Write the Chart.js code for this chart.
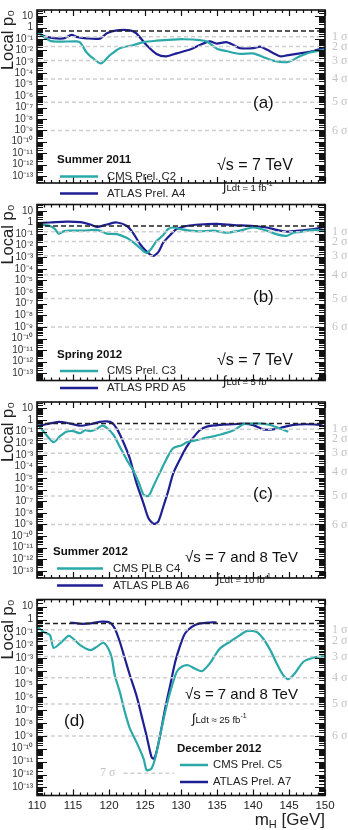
<!DOCTYPE html>
<html>
<head>
<meta charset="utf-8">
<script src="https://cdn.jsdelivr.net/npm/chart.js@4.4.1/dist/chart.umd.min.js"></script>
<style>
  body { margin: 0; background: #fff; width: 348px; height: 830px; overflow: hidden; }
  canvas { position: absolute; left: 0; top: 0; }
</style>
</head>
<body>
<canvas id="pa" width="348" height="830"></canvas>
<canvas id="pb" width="348" height="830"></canvas>
<canvas id="pc" width="348" height="830"></canvas>
<canvas id="pd" width="348" height="830"></canvas>
<script>
// ---- values (mass in GeV, local p0) ----
const massCmsA  = [110.1, 111.8, 113.2, 115.5, 116.0, 116.9, 117.8, 118.9, 120.1, 121.5, 123.4, 124.8, 126.6, 128.9, 130.3, 132.6, 133.6, 135.0, 136.3, 138.2, 140.0, 141.4, 142.8, 144.9, 146.5, 147.9, 150.0];
const pCmsA     = [0.38, 0.071, 0.060, 0.063, 0.05, 0.0067, 0.002, 7.3e-4, 0.0037, 0.016, 0.030, 0.054, 0.072, 0.091, 0.097, 0.081, 0.060, 0.0145, 0.0090, 0.0050, 0.0056, 0.0027, 0.0013, 0.0010, 0.0031, 0.0067, 0.012];
const massAtlasA = [110.1, 111.3, 113.7, 114.8, 115.5, 116.9, 118.75, 119.7, 121.1, 122.9, 123.8, 125.2, 126.6, 128.0, 129.4, 131.25, 132.6, 134.0, 134.95, 136.3, 137.3, 138.2, 140.05, 141.0, 141.9, 143.75, 144.7, 146.5, 148.4, 150.0];
const pAtlasA    = [0.38, 0.155, 0.115, 0.235, 0.155, 0.115, 0.11, 0.32, 0.58, 0.58, 0.32, 0.030, 0.0050, 0.0031, 0.0056, 0.012, 0.030, 0.063, 0.04, 0.054, 0.030, 0.016, 0.016, 0.022, 0.012, 0.0031, 0.0037, 0.0056, 0.0090, 0.019];

const massCmsB  = [110.1, 111.8, 112.5, 113.0, 113.7, 114.6, 116.4, 118.3, 119.7, 121.1, 122.5, 123.4, 124.3, 125.2, 125.9, 126.6, 127.55, 128.2, 128.9, 129.9, 131.25, 132.6, 134.5, 136.3, 138.2, 140.05, 141.9, 143.3, 144.7, 145.6, 146.5, 148.4, 150.0];
const pCmsB     = [0.66, 0.50, 0.27, 0.11, 0.17, 0.20, 0.20, 0.23, 0.11, 0.10, 0.046, 0.019, 0.0065, 0.0024, 0.0058, 0.025, 0.083, 0.27, 0.37, 0.27, 0.20, 0.17, 0.20, 0.13, 0.20, 0.37, 0.20, 0.094, 0.070, 0.13, 0.15, 0.23, 0.17];
const massAtlasB = [110.1, 111.8, 114.1, 116.0, 117.4, 118.3, 119.7, 121.1, 122.5, 123.4, 124.3, 125.2, 126.1, 126.85, 127.55, 128.5, 129.4, 130.8, 132.6, 134.95, 137.3, 140.05, 141.9, 143.3, 144.7, 146.5, 148.4, 150.0];
const pAtlasB    = [0.9, 1.0, 1.2, 1.07, 0.67, 0.42, 0.67, 1.0, 0.50, 0.11, 0.014, 0.0032, 0.0013, 0.0028, 0.019, 0.083, 0.27, 0.50, 0.67, 0.75, 0.60, 0.50, 0.37, 0.23, 0.16, 0.20, 0.27, 0.42];

const massCmsC  = [110.1, 111.1, 112.3, 113.2, 114.1, 115.0, 116.0, 116.7, 117.4, 118.3, 119.0, 119.7, 120.6, 121.5, 122.5, 123.4, 124.3, 124.8, 125.5, 126.2, 127.1, 128.0, 128.9, 130.1, 130.8, 131.7, 133.6, 135.4, 137.3, 138.7, 140.5, 141.9, 143.3, 144.9];
const pCmsC     = [0.43, 0.072, 0.012, 0.04, 0.097, 0.11, 0.072, 0.13, 0.11, 0.17, 0.32, 0.21, 0.054, 0.0050, 3.4e-4, 4.3e-5, 2.2e-6, 3.7e-7, 2.8e-7, 2.2e-6, 3.2e-5, 4.6e-4, 0.0037, 0.0067, 0.012, 0.016, 0.030, 0.054, 0.13, 0.43, 0.51, 0.43, 0.24, 0.097];
const massAtlasC = [110.1, 111.3, 113.0, 114.1, 116.0, 117.4, 118.75, 119.7, 120.4, 121.1, 122.0, 122.9, 123.8, 124.8, 125.5, 126.25, 126.85, 127.55, 128.2, 128.9, 129.9, 130.8, 131.7, 132.6, 133.6, 135.4, 137.3, 138.7, 140.05, 141.4, 142.8, 144.2, 145.6, 147.45, 149.3, 150.0];
const pAtlasC    = [0.32, 0.43, 0.69, 0.58, 0.32, 0.43, 0.69, 0.77, 0.58, 0.17, 0.012, 4.6e-4, 4.0e-6, 6.2e-8, 3.2e-9, 1.1e-9, 1.8e-9, 3.5e-8, 6.7e-7, 2.3e-5, 4.6e-4, 0.0050, 0.030, 0.13, 0.27, 0.38, 0.43, 0.48, 0.36, 0.155, 0.155, 0.24, 0.38, 0.43, 0.38, 0.27];

const massCmsD  = [110.1, 110.9, 111.8, 112.3, 113.2, 114.4, 115.0, 116.0, 117.4, 118.3, 119.2, 119.9, 120.4, 120.8, 121.5, 122.2, 122.9, 123.8, 124.8, 125.2, 125.5, 125.9, 126.4, 127.1, 127.8, 128.5, 129.4, 130.1, 131.0, 131.9, 132.9, 134.0, 135.4, 136.8, 138.2, 139.1, 140.5, 141.4, 142.4, 143.3, 144.2, 144.9, 145.8, 147.0, 148.4, 150.0];
const pCmsD     = [0.27, 0.11, 0.062, 0.0065, 0.014, 0.055, 0.034, 0.0104, 0.0043, 0.0077, 0.016, 0.0057, 9.6e-4, 4.9e-5, 2.5e-6, 7.1e-8, 3.6e-9, 3.4e-10, 1.7e-11, 2.2e-12, 2.2e-12, 2.9e-12, 1.7e-11, 1.1e-9, 7.1e-8, 2.5e-6, 8.9e-5, 2.2e-4, 2.9e-4, 1.6e-4, 1.0e-4, 4.0e-4, 0.0057, 0.019, 0.062, 0.126, 0.11, 0.034, 0.0043, 4.0e-4, 4.9e-5, 2.4e-5, 6.6e-5, 5.4e-4, 0.0011, 0.0015];
const massAtlasD = [114.6, 116.0, 117.4, 118.75, 120.1, 120.8, 121.5, 122.2, 122.9, 123.8, 124.5, 125.2, 125.9, 126.25, 126.6, 127.1, 127.8, 128.5, 129.2, 129.9, 130.55, 131.5, 132.6, 134.0, 134.95];
const pAtlasD    = [0.59, 0.47, 0.50, 0.67, 0.59, 0.20, 0.019, 9.6e-4, 4.9e-5, 1.4e-6, 4.0e-8, 1.1e-9, 2.3e-11, 1.7e-11, 5.7e-11, 1.1e-9, 1.3e-7, 8.3e-6, 5.4e-4, 0.0104, 0.083, 0.27, 0.50, 0.59, 0.59];

// reference levels
const sigmaLabels = ['1σ', '2σ', '3σ', '4σ', '5σ', '6σ'];
const sigmaP      = [0.1587, 0.02275, 1.35e-3, 3.17e-5, 2.87e-7, 9.87e-10];
const sevenSigmaP = 1.28e-12;
const sevenSigmaMass = [122, 129];
const halfP = 0.5;

// axes
const yTickExps = [1, 0, -1, -2, -3, -4, -5, -6, -7, -8, -9, -10, -11, -12, -13];
const xTicks = [110, 115, 120, 125, 130, 135, 140, 145, 150];

// labels
const periods    = ['Summer 2011', 'Spring 2012', 'Summer 2012', 'December 2012'];
const cmsNames   = ['CMS Prel. C2', 'CMS Prel. C3', 'CMS PLB C4', 'CMS Prel. C5'];
const atlasNames = ['ATLAS Prel. A4', 'ATLAS PRD A5', 'ATLAS PLB A6', 'ATLAS Prel. A7'];
const energies   = ['7 TeV', '7 TeV', '7 and 8 TeV', '7 and 8 TeV'];
const lumis      = ['= 1 fb', '= 5 fb', '= 10 fb', '≈ 25 fb'];
const tags       = ['(a)', '(b)', '(c)', '(d)'];

const CMS = '#2ba8a8';
const ATLAS = '#1e1f92';
const FONT = '"Liberation Sans", Arial, sans-serif';

// layout of each panel (pixels, relative to the panel top)
const panelTop = [7, 204.5, 402, 599.5];
const plotH = 196;
const layouts = [
  { leg: [57, 150, 60, 98, 107], sq: [217, 156, 16], lumi: [223, 177], tag: [253, 93] },
  { leg: [57, 150, 60, 98, 107], sq: [217, 156, 16], lumi: [223, 177], tag: [253, 93] },
  { leg: [53, 150, 57, 103, 113], sq: [185, 156, 15], lumi: [216, 177], tag: [253, 92] },
  { leg: [177, 149, 180, 208, 213], sq: [185, 95, 15], lumi: [192, 120], tag: [64, 122] }
];

function pts(mass, p) {
  return mass.map((m, i) => ({ x: m, y: p[i] }));
}

function richText(ctx, parts, x, y) {
  // parts: [text, size, dy, bold]
  ctx.textBaseline = 'middle';
  ctx.textAlign = 'left';
  parts.forEach(([t, size, dy, bold]) => {
    ctx.font = (bold ? 'bold ' : '') + size + 'px ' + FONT;
    ctx.fillText(t, x, y + (dy || 0));
    x += ctx.measureText(t).width;
  });
}

const framePlugin = {
  id: 'frame',
  afterDatasetsDraw(chart, args, opts) {
    const { ctx, chartArea: a } = chart;
    const x = chart.scales.x, y = chart.scales.y;
    const i = opts.panel;
    const L = layouts[i];
    const top = a.top;
    ctx.save();

    // tick marks on all four sides
    ctx.strokeStyle = '#111';
    ctx.lineWidth = 1.2;
    ctx.beginPath();
    for (let e = -14; e <= 2; e++) {
      for (let m = 1; m <= 9; m++) {
        const v = m * Math.pow(10, e);
        if (v < y.min || v > y.max) continue;
        const py = Math.round(y.getPixelForValue(v)) + 0.5;
        const len = m === 1 ? 10 : 6;
        ctx.moveTo(a.left, py); ctx.lineTo(a.left + len, py);
        ctx.moveTo(a.right - len, py); ctx.lineTo(a.right, py);
      }
    }
    for (let g = 110; g <= 150; g++) {
      const px = Math.round(x.getPixelForValue(g)) + 0.5;
      const len = g % 5 === 0 ? 6 : 3;
      ctx.moveTo(px, a.top); ctx.lineTo(px, a.top + len);
      ctx.moveTo(px, a.bottom); ctx.lineTo(px, a.bottom - len);
    }
    ctx.stroke();
    ctx.lineWidth = 1.6;
    ctx.strokeRect(a.left, a.top, a.right - a.left, a.bottom - a.top);

    // sigma labels on the right
    ctx.fillStyle = '#c4c4c4';
    ctx.font = '12px "Liberation Serif", serif';
    ctx.textBaseline = 'middle';
    ctx.textAlign = 'left';
    sigmaLabels.forEach((s, k) => {
      ctx.fillText(s.replace('σ', ' σ'), a.right + 7, y.getPixelForValue(sigmaP[k]));
    });
    if (i === 3) {
      ctx.textAlign = 'right';
      ctx.fillText('7 σ', x.getPixelForValue(sevenSigmaMass[0]) - 8, y.getPixelForValue(sevenSigmaP));
    }

    // legend
    const [tx, ty, lx0, lx1, nx] = L.leg;
    ctx.fillStyle = '#111';
    richText(ctx, [[periods[i], 11.5, 0, true]], tx, top + ty);
    ctx.lineWidth = 2.5;
    ctx.strokeStyle = CMS;
    ctx.beginPath(); ctx.moveTo(lx0, top + ty + 16.5); ctx.lineTo(lx1, top + ty + 16.5); ctx.stroke();
    ctx.strokeStyle = ATLAS;
    ctx.beginPath(); ctx.moveTo(lx0, top + ty + 33.5); ctx.lineTo(lx1, top + ty + 33.5); ctx.stroke();
    ctx.fillStyle = '#222';
    richText(ctx, [[cmsNames[i], 11.3]], nx, top + ty + 16.5);
    richText(ctx, [[atlasNames[i], 11.3]], nx, top + ty + 33.5);

    // energy, luminosity, panel tag
    ctx.fillStyle = '#111';
    const [sx, sy, ss] = L.sq;
    richText(ctx, [['√s = ' + energies[i], ss]], sx, top + sy);
    const [ux, uy] = L.lumi;
    richText(ctx, [['∫', 13, 0], ['Ldt ' + lumis[i], 9.5, 1], ['-1', 7, -3]], ux, top + uy);
    const [gx, gy] = L.tag;
    richText(ctx, [[tags[i], 17]], gx, top + gy);

    // x axis title on the last panel
    if (i === 3) {
      ctx.fillStyle = '#222';
      ctx.font = '17px ' + FONT;
      const w = ctx.measureText('m').width + ctx.measureText(' [GeV]').width;
      ctx.font = '11px ' + FONT;
      const wh = ctx.measureText('H').width;
      richText(ctx, [['m', 17, 0], ['H', 11, 5], [' [GeV]', 17, 0]], a.right - w - wh, 820);
    }
    ctx.restore();
  }
};

function refLine(p, x0, x1, color, dash) {
  return {
    data: [{ x: x0, y: p }, { x: x1, y: p }],
    borderColor: color, borderWidth: 1.5, borderDash: dash,
    pointRadius: 0, order: -1
  };
}

function makePanel(id, i, cms, atlas) {
  const isLast = i === 3;
  const datasets = [
    { data: cms, borderColor: CMS, borderWidth: 2.2, pointRadius: 0, tension: 0.25 },
    { data: atlas, borderColor: ATLAS, borderWidth: 2.2, pointRadius: 0, tension: 0.25 },
    refLine(halfP, 110, 150, '#222', [5, 3])
  ];
  sigmaP.forEach(p => datasets.push(refLine(p, 110, 150, '#cfcfcf', [4, 3])));
  if (isLast) datasets.push(refLine(sevenSigmaP, sevenSigmaMass[0], sevenSigmaMass[1], '#cfcfcf', [4, 3]));

  const bottomPad = isLast ? 830 - panelTop[i] - plotH - 20 : 830 - panelTop[i] - plotH;

  return new Chart(document.getElementById(id), {
    type: 'line',
    data: { datasets: datasets },
    options: {
      responsive: false,
      animation: false,
      events: [],
      layout: { padding: { top: panelTop[i], bottom: bottomPad, left: 0, right: 23 } },
      plugins: { legend: { display: false }, tooltip: { enabled: false }, frame: { panel: i } },
      scales: {
        x: {
          type: 'linear', min: 110, max: 150,
          display: isLast,
          grid: { display: false, drawTicks: false },
          border: { display: false },
          afterBuildTicks: s => { s.ticks = xTicks.map(v => ({ value: v })); },
          afterFit: s => { s.height = 20; },
          ticks: { color: '#222', padding: 3, font: { family: FONT, size: 11.5 }, maxRotation: 0, autoSkip: false }
        },
        y: {
          type: 'logarithmic',
          min: Math.pow(10, -13.62), max: Math.pow(10, 1.55),
          grid: { display: false, drawTicks: false },
          border: { display: false },
          afterBuildTicks: s => { s.ticks = yTickExps.map(e => ({ value: Math.pow(10, e) })); },
          afterFit: s => { s.width = 37; },
          title: { display: true, text: 'Local p₀', align: 'end', color: '#222', padding: 0, font: { family: FONT, size: 16.5, lineHeight: 1 } },
          ticks: {
            color: '#333', padding: 4, autoSkip: false,
            font: { family: FONT, size: 10 },
            callback: v => {
              const e = Math.round(Math.log10(v));
              if (e === 1) return '10';
              if (e === 0) return '1';
              const sup = { '-': '⁻', '0': '⁰', '1': '¹', '2': '²', '3': '³', '4': '⁴', '5': '⁵', '6': '⁶', '7': '⁷', '8': '⁸', '9': '⁹' };
              return '10' + String(e).split('').map(c => sup[c]).join('');
            }
          }
        }
      }
    },
    plugins: [framePlugin]
  });
}

makePanel('pa', 0, pts(massCmsA, pCmsA), pts(massAtlasA, pAtlasA));
makePanel('pb', 1, pts(massCmsB, pCmsB), pts(massAtlasB, pAtlasB));
makePanel('pc', 2, pts(massCmsC, pCmsC), pts(massAtlasC, pAtlasC));
makePanel('pd', 3, pts(massCmsD, pCmsD), pts(massAtlasD, pAtlasD));
</script>
</body>
</html>
